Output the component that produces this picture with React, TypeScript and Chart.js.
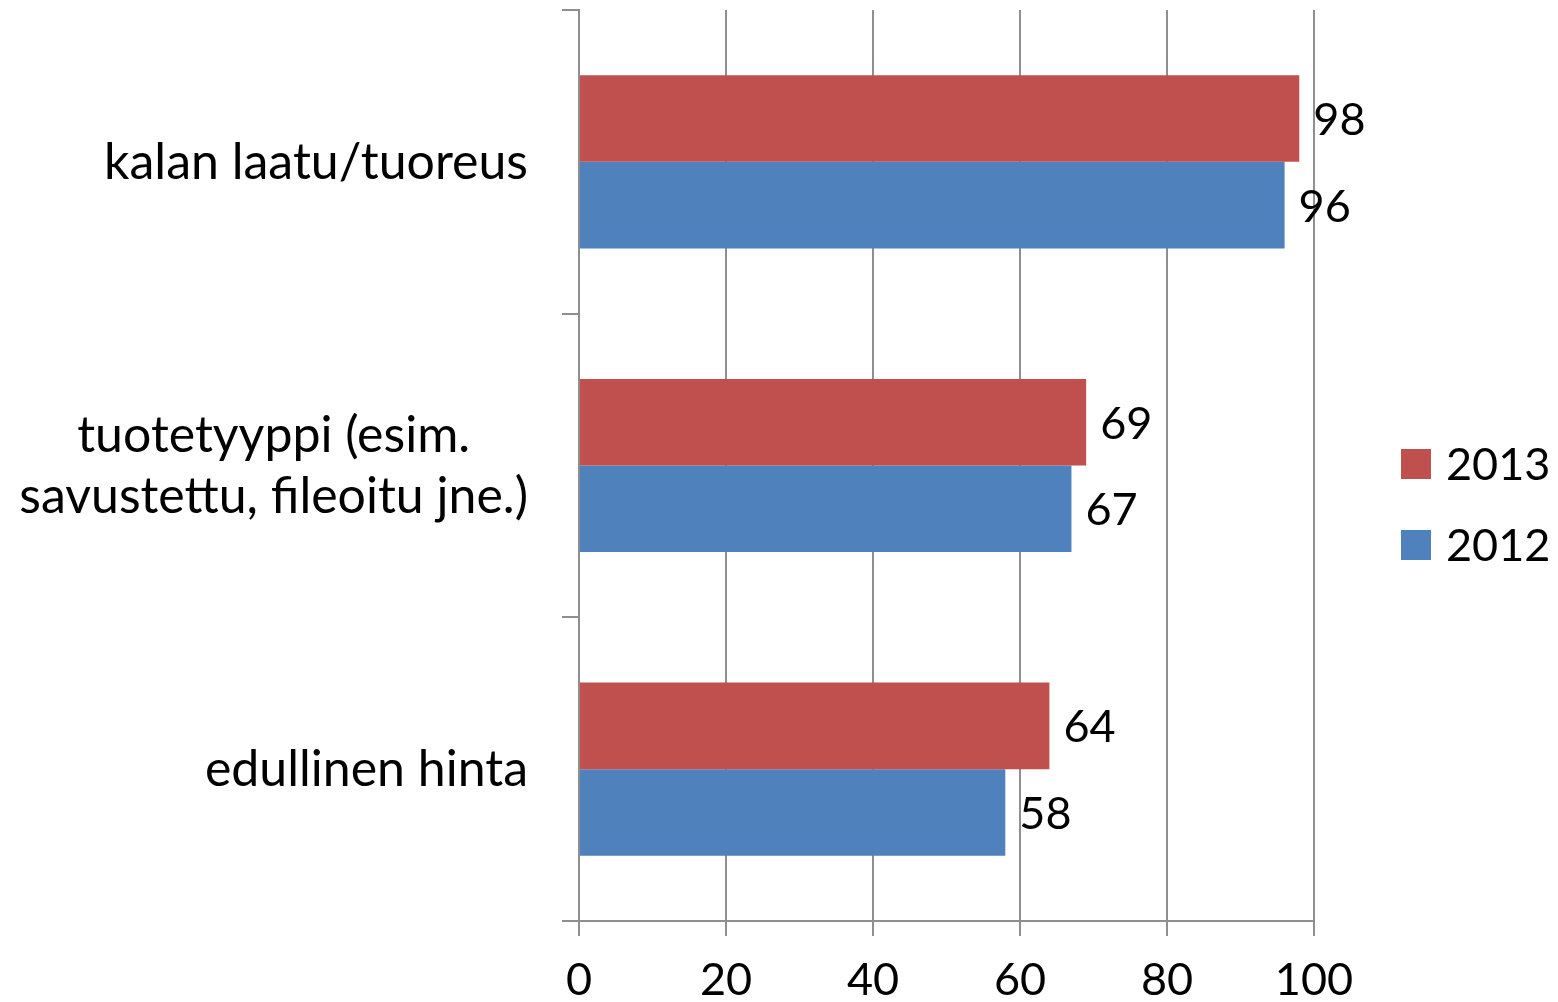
import { useEffect, useRef } from "react";
import { Chart, registerables } from "chart.js";

Chart.register(...registerables);

const categories: string[][] = [
  ["kalan laatu/tuoreus"],
  ["tuotetyyppi (esim.", "savustettu, fileoitu jne.)"],
  ["edullinen hinta"],
];
const seriesLabels = ["2013", "2012"];
const values2013 = [98, 69, 64];
const values2012 = [96, 67, 58];
const seriesColors = ["#C0504D", "#4F81BD"];
const xMin = 0;
const xMax = 100;
const xStep = 20;

const FONT_FAMILY = "Lato, 'Noto Sans', sans-serif";
const FONT_SIZE = 45;
const LABEL_FONT_SIZE = 50;
const GRID = "#8f8f8f";

const overlayPlugin = {
  id: "overlay",
  afterDraw(chart: any) {
    const ctx = chart.ctx as CanvasRenderingContext2D;
    const area = chart.chartArea;
    const yScale = chart.scales.y;
    ctx.save();
    ctx.fillStyle = "#000";
    ctx.textBaseline = "middle";

    // category labels: block right-aligned, lines centred among themselves
    ctx.font = `${LABEL_FONT_SIZE}px ${FONT_FAMILY}`;
    const labelRight = area.left - 17 - 34;
    const lineH = 61;
    categories.forEach((lines, i) => {
      const cy = yScale.getPixelForTick(i) + 1;
      const widest = Math.max(...lines.map((l) => ctx.measureText(l).width));
      const cx = labelRight - widest / 2;
      ctx.textAlign = "center";
      lines.forEach((l, j) => {
        const y = cy + (j - (lines.length - 1) / 2) * lineH;
        ctx.fillText(l, cx, y);
      });
    });

    // value labels
    ctx.font = `${FONT_SIZE}px ${FONT_FAMILY}`;
    ctx.textAlign = "left";
    chart.data.datasets.forEach((ds: any, di: number) => {
      const meta = chart.getDatasetMeta(di);
      meta.data.forEach((el: any, i: number) => {
        ctx.fillText(String(ds.data[i]), el.x + 14, el.y + 2);
      });
    });

    // legend
    const midY = (area.top + area.bottom) / 2;
    const lx = area.right + 87;
    chart.data.datasets.forEach((ds: any, di: number) => {
      const y = midY - 1.5 + di * 81;
      ctx.fillStyle = ds.backgroundColor;
      ctx.fillRect(lx, y - 15, 30, 30);
      ctx.fillStyle = "#000";
      ctx.fillText(ds.label, lx + 45, y + 1);
    });
    ctx.restore();
  },
};

export default function App() {
  const ref = useRef<HTMLCanvasElement>(null);
  useEffect(() => {
    document.body.style.margin = "0";
    const chart = new Chart(ref.current!, {
      type: "bar",
      data: {
        labels: categories,
        datasets: [
          { label: seriesLabels[0], data: values2013, backgroundColor: seriesColors[0] },
          { label: seriesLabels[1], data: values2012, backgroundColor: seriesColors[1] },
        ],
      },
      options: {
        indexAxis: "y",
        responsive: false,
        animation: false,
        layout: { padding: { top: 10, right: 244, left: 0, bottom: 0 } },
        datasets: { bar: { categoryPercentage: 0.57, barPercentage: 1 } },
        plugins: { legend: { display: false }, tooltip: { enabled: false } },
        scales: {
          x: {
            min: xMin,
            max: xMax,
            ticks: {
              stepSize: xStep,
              color: "#000",
              padding: 17,
              font: { family: FONT_FAMILY, size: FONT_SIZE },
            },
            grid: { color: GRID, lineWidth: 2, tickLength: 15 },
            border: { color: GRID, width: 2 },
            afterFit: (s: any) => {
              s.height = 81;
            },
          },
          y: {
            ticks: { color: "rgba(0,0,0,0)", font: { family: FONT_FAMILY, size: 1 } },
            grid: { offset: true, drawOnChartArea: false, color: GRID, lineWidth: 2, tickLength: 17 },
            border: { color: GRID, width: 2 },
            afterFit: (s: any) => {
              s.width = 579;
              s.paddingTop = 0;
              s.paddingBottom = 0;
            },
          },
        },
      },
      plugins: [overlayPlugin],
    });
    return () => chart.destroy();
  }, []);
  return (
    <div style={{ width: 1558, height: 1002 }}>
      <canvas ref={ref} width={1558} height={1002} />
    </div>
  );
}
